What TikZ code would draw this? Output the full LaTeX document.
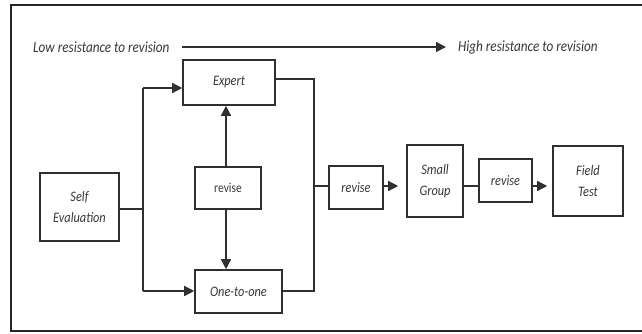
\documentclass[tikz,border=0pt]{standalone}
\usepackage{fontspec}
\setmainfont{Carlito}[FakeStretch=0.85]
\usetikzlibrary{arrows.meta}
\definecolor{ink}{HTML}{303030}
\definecolor{txt}{HTML}{383838}
\tikzset{
  box/.style={draw=ink, line width=1.6pt, inner sep=0pt, align=center, text=txt,
    font=\fontsize{14.5}{21}\selectfont\itshape},
  conn/.style={draw=ink, line width=1.5pt},
  arr/.style={conn, -{Triangle[length=10pt,width=10pt]}},
  lbl/.style={inner sep=0pt, text=txt, font=\fontsize{15.5}{18}\selectfont\itshape}
}
\begin{document}
\begin{tikzpicture}[x=1pt,y=-1pt]
\useasboundingbox (0,0) rectangle (642,334);
\fill[white] (0,0) rectangle (642,334);
\draw[line width=2.8pt, black!85] (11,5) rectangle (652,331);

\node[lbl, anchor=west] (low) at (33,47) {Low resistance to revision};
\node[lbl, anchor=west] (high) at (458,47) {High resistance to revision};
\coordinate (a1) at (182,47);
\coordinate (a2) at (446,47);
\draw[arr] (a1) -- (a2);

\node[box, minimum width=79pt, minimum height=68pt] (se) at (79.5,207) {Self\\Evaluation};
\node[box, minimum width=92pt, minimum height=45pt] (expert) at (229,82.5) {Expert};
\node[box, minimum width=66pt, minimum height=42pt, font=\fontsize{13.5}{16}\selectfont] (rev1) at (228,188) {revise};
\node[box, minimum width=87pt, minimum height=43pt] (one) at (238.5,291.5) {One-to-one};
\node[box, minimum width=54pt, minimum height=43pt] (rev2) at (356,187.5) {revise};
\node[box, minimum width=56pt, minimum height=72pt] (sg) at (435,181) {Small\\Group};
\node[box, minimum width=53pt, minimum height=43pt] (rev3) at (505.5,180.5) {revise};
\node[box, minimum width=70pt, minimum height=70pt] (ft) at (588,181) {Field\\Test};

\coordinate (jl) at (143,209);
\coordinate (jt) at (143,88);
\coordinate (jb) at (143,291);
\coordinate (rt) at (314,79);
\coordinate (rm) at (314,186);
\coordinate (rb) at (314,291);

\draw[conn] (se.east |- jl) -- (jl);
\draw[conn] (jt) -- (jb);
\draw[arr] (jt) -- (jt -| expert.west);
\draw[arr] (jb) -- (jb -| one.west);
\draw[arr] (rev1.north -| 226,0) -- (expert.south -| 226,0);
\draw[arr] (rev1.south -| 226,0) -- (one.north -| 226,0);
\draw[conn] (expert.east |- rt) -- (rt) -- (rb) -- (one.east |- rb);
\draw[conn] (rm) -- (rev2.west |- rm);
\draw[arr, shorten >=8pt] (rev2.east |- rm) -- (sg.west |- rm);
\draw[conn] (sg.east |- rm) -- (rev3.west |- rm);
\draw[arr, shorten >=5pt] (rev3.east |- rm) -- (ft.west |- rm);
\end{tikzpicture}
\end{document}
